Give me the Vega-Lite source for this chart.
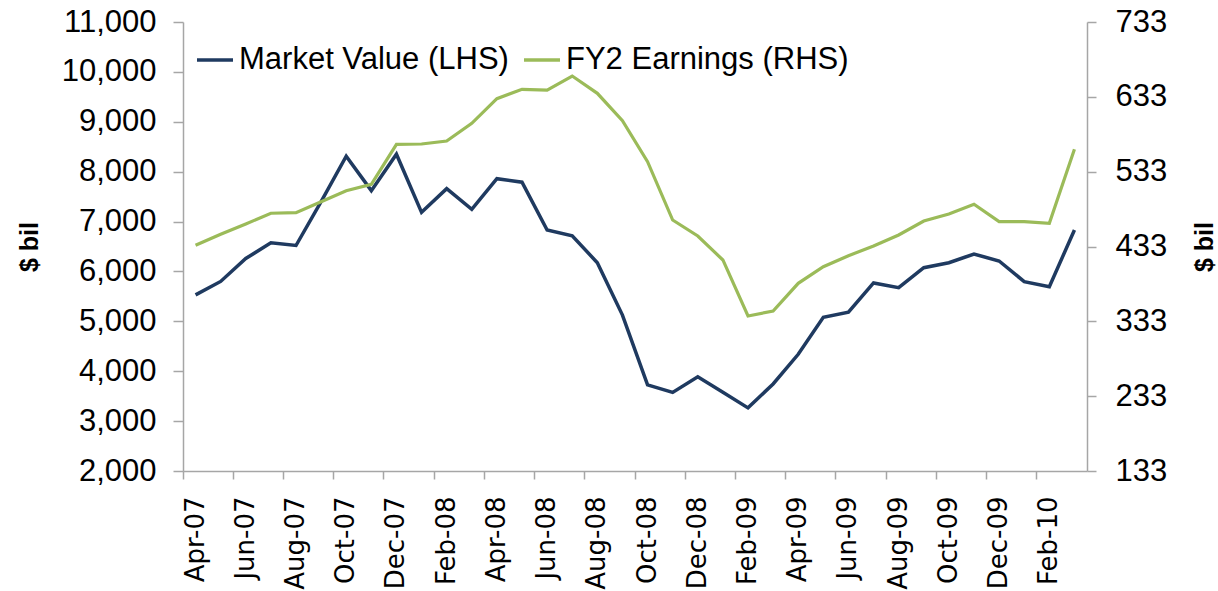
{
  "$schema": "https://vega.github.io/schema/vega-lite/v6.json",
  "width": 904,
  "height": 449,
  "autosize": {"type": "none"},
  "padding": {"left": 183, "top": 22, "right": 131, "bottom": 120},
  "background": "white",
  "config": {
    "view": {"stroke": null},
    "font": "Liberation Sans"
  },
  "data": {
    "values": [
      {"month": "Apr-07", "mv": 5530, "fy2": 434.6},
      {"month": "May-07", "mv": 5800, "fy2": 449.3},
      {"month": "Jun-07", "mv": 6260, "fy2": 463.1},
      {"month": "Jul-07", "mv": 6575, "fy2": 477.4},
      {"month": "Aug-07", "mv": 6520, "fy2": 478.2},
      {"month": "Sep-07", "mv": 7400, "fy2": 492.9},
      {"month": "Oct-07", "mv": 8310, "fy2": 507.6},
      {"month": "Nov-07", "mv": 7620, "fy2": 516.1},
      {"month": "Dec-07", "mv": 8350, "fy2": 569.6},
      {"month": "Jan-08", "mv": 7185, "fy2": 570.0},
      {"month": "Feb-08", "mv": 7660, "fy2": 574.0},
      {"month": "Mar-08", "mv": 7245, "fy2": 597.6},
      {"month": "Apr-08", "mv": 7860, "fy2": 630.5},
      {"month": "May-08", "mv": 7790, "fy2": 643.0},
      {"month": "Jun-08", "mv": 6830, "fy2": 642.0},
      {"month": "Jul-08", "mv": 6715, "fy2": 660.8},
      {"month": "Aug-08", "mv": 6175, "fy2": 637.7},
      {"month": "Sep-08", "mv": 5125, "fy2": 601.0},
      {"month": "Oct-08", "mv": 3725, "fy2": 546.3},
      {"month": "Nov-08", "mv": 3575, "fy2": 468.4},
      {"month": "Dec-08", "mv": 3890, "fy2": 447.0},
      {"month": "Jan-09", "mv": 3580, "fy2": 415.0},
      {"month": "Feb-09", "mv": 3265, "fy2": 340.1},
      {"month": "Mar-09", "mv": 3745, "fy2": 346.8},
      {"month": "Apr-09", "mv": 4340, "fy2": 383.8},
      {"month": "May-09", "mv": 5080, "fy2": 406.0},
      {"month": "Jun-09", "mv": 5185, "fy2": 420.7},
      {"month": "Jul-09", "mv": 5770, "fy2": 433.7},
      {"month": "Aug-09", "mv": 5675, "fy2": 448.4},
      {"month": "Sep-09", "mv": 6075, "fy2": 467.1},
      {"month": "Oct-09", "mv": 6175, "fy2": 476.4},
      {"month": "Nov-09", "mv": 6350, "fy2": 489.4},
      {"month": "Dec-09", "mv": 6210, "fy2": 466.2},
      {"month": "Jan-10", "mv": 5795, "fy2": 466.2},
      {"month": "Feb-10", "mv": 5695, "fy2": 464.0},
      {"month": "Mar-10", "mv": 6830, "fy2": 562.9}
    ]
  },
  "encoding": {
    "x": {
      "field": "month",
      "type": "ordinal",
      "sort": null,
      "bandPosition": 0.5,
      "scale": {"type": "band", "paddingInner": 0, "paddingOuter": 0},
      "axis": {
        "title": null,
        "values": ["Apr-07", "Jun-07", "Aug-07", "Oct-07", "Dec-07", "Feb-08", "Apr-08", "Jun-08", "Aug-08", "Oct-08", "Dec-08", "Feb-09", "Apr-09", "Jun-09", "Aug-09", "Oct-09", "Dec-09", "Feb-10"],
        "bandPosition": 0,
        "labelAngle": -90,
        "labelAlign": "right",
        "labelBaseline": "middle",
        "labelFont": "DejaVu Sans",
        "labelFontSize": 26,
        "labelColor": "#000000",
        "labelPadding": 17,
        "tickSize": 8,
        "tickColor": "#A6A6A6",
        "domainColor": "#A6A6A6",
        "domainWidth": 1.5,
        "tickWidth": 1.5,
        "grid": false
      }
    }
  },
  "layer": [
    {
      "mark": {"type": "line", "strokeWidth": 3.5, "color": "#1F3A60"},
      "encoding": {
        "y": {
          "field": "mv",
          "type": "quantitative",
          "scale": {"domain": [2000, 11000], "nice": false, "zero": false},
          "axis": {
            "title": "$ bil",
            "titleFont": "Liberation Sans",
            "titleFontSize": 25,
            "titleFontWeight": "bold",
            "titleColor": "#000000",
            "titlePadding": 19,
            "values": [2000, 3000, 4000, 5000, 6000, 7000, 8000, 9000, 10000, 11000],
            "format": ",d",
            "labelFont": "Liberation Sans",
            "labelFontSize": 31,
            "labelColor": "#000000",
            "labelPadding": 17,
            "tickSize": 10,
            "tickColor": "#A6A6A6",
            "domainColor": "#A6A6A6",
            "domainWidth": 1.5,
            "tickWidth": 1.5,
            "grid": false
          }
        },
        "color": {
          "datum": "Market Value (LHS)",
          "scale": {"domain": ["Market Value (LHS)", "FY2 Earnings (RHS)"], "range": ["#1F3A60", "#9BBB59"]},
          "legend": {
            "title": null,
            "orient": "none",
            "direction": "horizontal",
            "legendX": 12,
            "legendY": 18,
            "padding": 0,
            "symbolType": "stroke",
            "symbolSize": 1296,
            "symbolStrokeWidth": 3.5,
            "labelFont": "Liberation Sans",
            "labelFontSize": 31,
            "labelColor": "#000000",
            "labelLimit": 500,
            "labelOffset": 4,
            "columnPadding": 8
          }
        }
      }
    },
    {
      "mark": {"type": "line", "strokeWidth": 3.2, "color": "#9BBB59"},
      "encoding": {
        "y": {
          "field": "fy2",
          "type": "quantitative",
          "scale": {"domain": [133, 733], "nice": false, "zero": false},
          "axis": {
            "orient": "right",
            "title": "$ bil",
            "titleAngle": -90,
            "titleBaseline": "top",
            "titleFont": "Liberation Sans",
            "titleFontSize": 25,
            "titleFontWeight": "bold",
            "titleColor": "#000000",
            "titlePadding": 26,
            "values": [133, 233, 333, 433, 533, 633, 733],
            "format": "d",
            "labelFont": "Liberation Sans",
            "labelFontSize": 31,
            "labelColor": "#000000",
            "labelPadding": 19,
            "tickSize": 9,
            "tickColor": "#A6A6A6",
            "domainColor": "#A6A6A6",
            "domainWidth": 1.5,
            "tickWidth": 1.5,
            "grid": false
          }
        },
        "color": {"datum": "FY2 Earnings (RHS)"}
      }
    }
  ],
  "resolve": {"scale": {"y": "independent"}, "axis": {"y": "independent"}}
}
